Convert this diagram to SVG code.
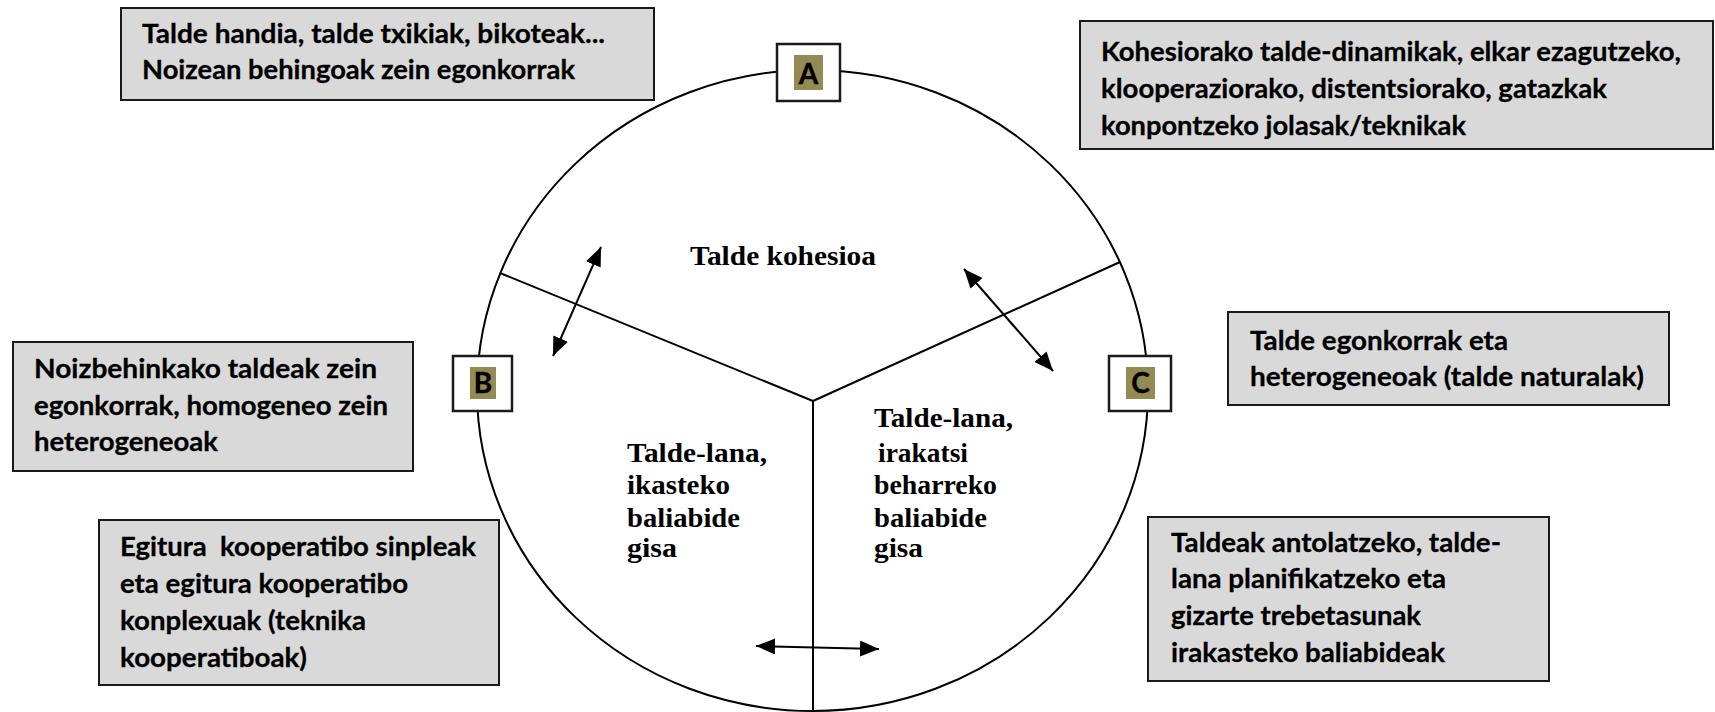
<svg xmlns="http://www.w3.org/2000/svg" width="1715" height="712" viewBox="0 0 1715 712">
<style>
.box{fill:#D9D9D9;stroke:#1a1a1a;stroke-width:2}
.t{font-family:Lato,"Open Sans","Liberation Sans",sans-serif;font-weight:bold;font-size:27px;fill:#000;stroke:#000;stroke-width:0.3}
.s{font-family:"Liberation Serif","DejaVu Serif",serif;font-weight:bold;font-size:28px;fill:#000}
.lb{fill:#fff;stroke:#1a1a1a;stroke-width:2.5}
.ol{fill:#948A54}
.ltr{font-family:Lato,"Open Sans","Liberation Sans",sans-serif;font-weight:bold;font-size:28px;fill:#000;stroke:#000;stroke-width:0.4;text-anchor:middle}
.ln{fill:none;stroke:#000;stroke-width:2}
.ar{fill:none;stroke:#000;stroke-width:2;marker-start:url(#ah);marker-end:url(#ah)}
</style>
<defs>
<marker id="ah" markerUnits="userSpaceOnUse" markerWidth="20" markerHeight="18" refX="19" refY="8" orient="auto-start-reverse">
<path d="M0,0 L19,8 L0,16 z" fill="#000"/>
</marker>
</defs>
<rect width="1715" height="712" fill="#fff"/>
<g id="connectors">
<ellipse class="ln" cx="812.5" cy="390.5" rx="335.5" ry="320.5"/>
<line class="ln" x1="813" y1="401" x2="500" y2="273"/>
<line class="ln" x1="813" y1="401" x2="1120" y2="262"/>
<line class="ln" x1="813" y1="401" x2="813" y2="714"/>
<line class="ar" x1="601" y1="247" x2="553" y2="356"/>
<line class="ar" x1="964" y1="269" x2="1053" y2="371"/>
<line class="ar" x1="756" y1="646" x2="879" y2="649"/>
</g>
<g id="box-top-left">
<rect class="box" x="121" y="8" width="533" height="92"/>
<text class="t" x="142" y="43" textLength="463" lengthAdjust="spacingAndGlyphs">Talde handia, talde txikiak, bikoteak...</text>
<text class="t" x="142" y="79" textLength="433" lengthAdjust="spacingAndGlyphs">Noizean behingoak zein egonkorrak</text>
</g>
<g id="box-top-right">
<rect class="box" x="1080" y="21" width="633" height="128"/>
<text class="t" x="1101" y="61" textLength="580" lengthAdjust="spacingAndGlyphs">Kohesiorako talde-dinamikak, elkar ezagutzeko,</text>
<text class="t" x="1101" y="98" textLength="506" lengthAdjust="spacingAndGlyphs">klooperaziorako, distentsiorako, gatazkak</text>
<text class="t" x="1101" y="135" textLength="365" lengthAdjust="spacingAndGlyphs">konpontzeko jolasak/teknikak</text>
</g>
<g id="box-mid-left">
<rect class="box" x="13" y="342" width="400" height="129"/>
<text class="t" x="34" y="378" textLength="343" lengthAdjust="spacingAndGlyphs">Noizbehinkako taldeak zein</text>
<text class="t" x="34" y="415" textLength="354" lengthAdjust="spacingAndGlyphs">egonkorrak, homogeneo zein</text>
<text class="t" x="34" y="451" textLength="184" lengthAdjust="spacingAndGlyphs">heterogeneoak</text>
</g>
<g id="box-mid-right">
<rect class="box" x="1228" y="312" width="441" height="93"/>
<text class="t" x="1250" y="350" textLength="258" lengthAdjust="spacingAndGlyphs">Talde egonkorrak eta</text>
<text class="t" x="1250" y="386" textLength="394" lengthAdjust="spacingAndGlyphs">heterogeneoak (talde naturalak)</text>
</g>
<g id="box-bottom-left">
<rect class="box" x="99" y="520" width="400" height="165"/>
<text class="t" x="120" y="556" textLength="356" lengthAdjust="spacingAndGlyphs" xml:space="preserve">Egitura  kooperatibo sinpleak</text>
<text class="t" x="120" y="593" textLength="288" lengthAdjust="spacingAndGlyphs">eta egitura kooperatibo</text>
<text class="t" x="120" y="630" textLength="246" lengthAdjust="spacingAndGlyphs">konplexuak (teknika</text>
<text class="t" x="120" y="667" textLength="187" lengthAdjust="spacingAndGlyphs">kooperatiboak)</text>
</g>
<g id="box-bottom-right">
<rect class="box" x="1148" y="517" width="401" height="164"/>
<text class="t" x="1171" y="552" textLength="330" lengthAdjust="spacingAndGlyphs">Taldeak antolatzeko, talde-</text>
<text class="t" x="1171" y="588" textLength="275" lengthAdjust="spacingAndGlyphs">lana planifikatzeko eta</text>
<text class="t" x="1171" y="625" textLength="250" lengthAdjust="spacingAndGlyphs">gizarte trebetasunak</text>
<text class="t" x="1171" y="662" textLength="274" lengthAdjust="spacingAndGlyphs">irakasteko baliabideak</text>
</g>
<g id="label-A">
<rect class="lb" x="777" y="44" width="63" height="57"/>
<rect class="ol" x="794" y="55" width="29" height="35"/>
<text class="ltr" x="808.5" y="84">A</text>
</g>
<g id="label-B">
<rect class="lb" x="453" y="356" width="59" height="55"/>
<rect class="ol" x="470" y="367" width="26" height="32"/>
<text class="ltr" x="483" y="393">B</text>
</g>
<g id="label-C">
<rect class="lb" x="1109" y="356" width="62" height="55"/>
<rect class="ol" x="1126" y="367" width="29" height="32"/>
<text class="ltr" x="1140.5" y="393">C</text>
</g>
<g id="sector-top">
<text class="s" x="690" y="265" textLength="186" lengthAdjust="spacingAndGlyphs">Talde kohesioa</text>
</g>
<g id="sector-left">
<text class="s" x="627" y="462" textLength="140" lengthAdjust="spacingAndGlyphs">Talde-lana,</text>
<text class="s" x="627" y="494" textLength="103" lengthAdjust="spacingAndGlyphs">ikasteko</text>
<text class="s" x="627" y="527" textLength="113" lengthAdjust="spacingAndGlyphs">baliabide</text>
<text class="s" x="627" y="557" textLength="50" lengthAdjust="spacingAndGlyphs">gisa</text>
</g>
<g id="sector-right">
<text class="s" x="874" y="427" textLength="139" lengthAdjust="spacingAndGlyphs">Talde-lana,</text>
<text class="s" x="878" y="462" textLength="90" lengthAdjust="spacingAndGlyphs">irakatsi</text>
<text class="s" x="874" y="494" textLength="123" lengthAdjust="spacingAndGlyphs">beharreko</text>
<text class="s" x="874" y="527" textLength="113" lengthAdjust="spacingAndGlyphs">baliabide</text>
<text class="s" x="874" y="557" textLength="49" lengthAdjust="spacingAndGlyphs">gisa</text>
</g>
</svg>
